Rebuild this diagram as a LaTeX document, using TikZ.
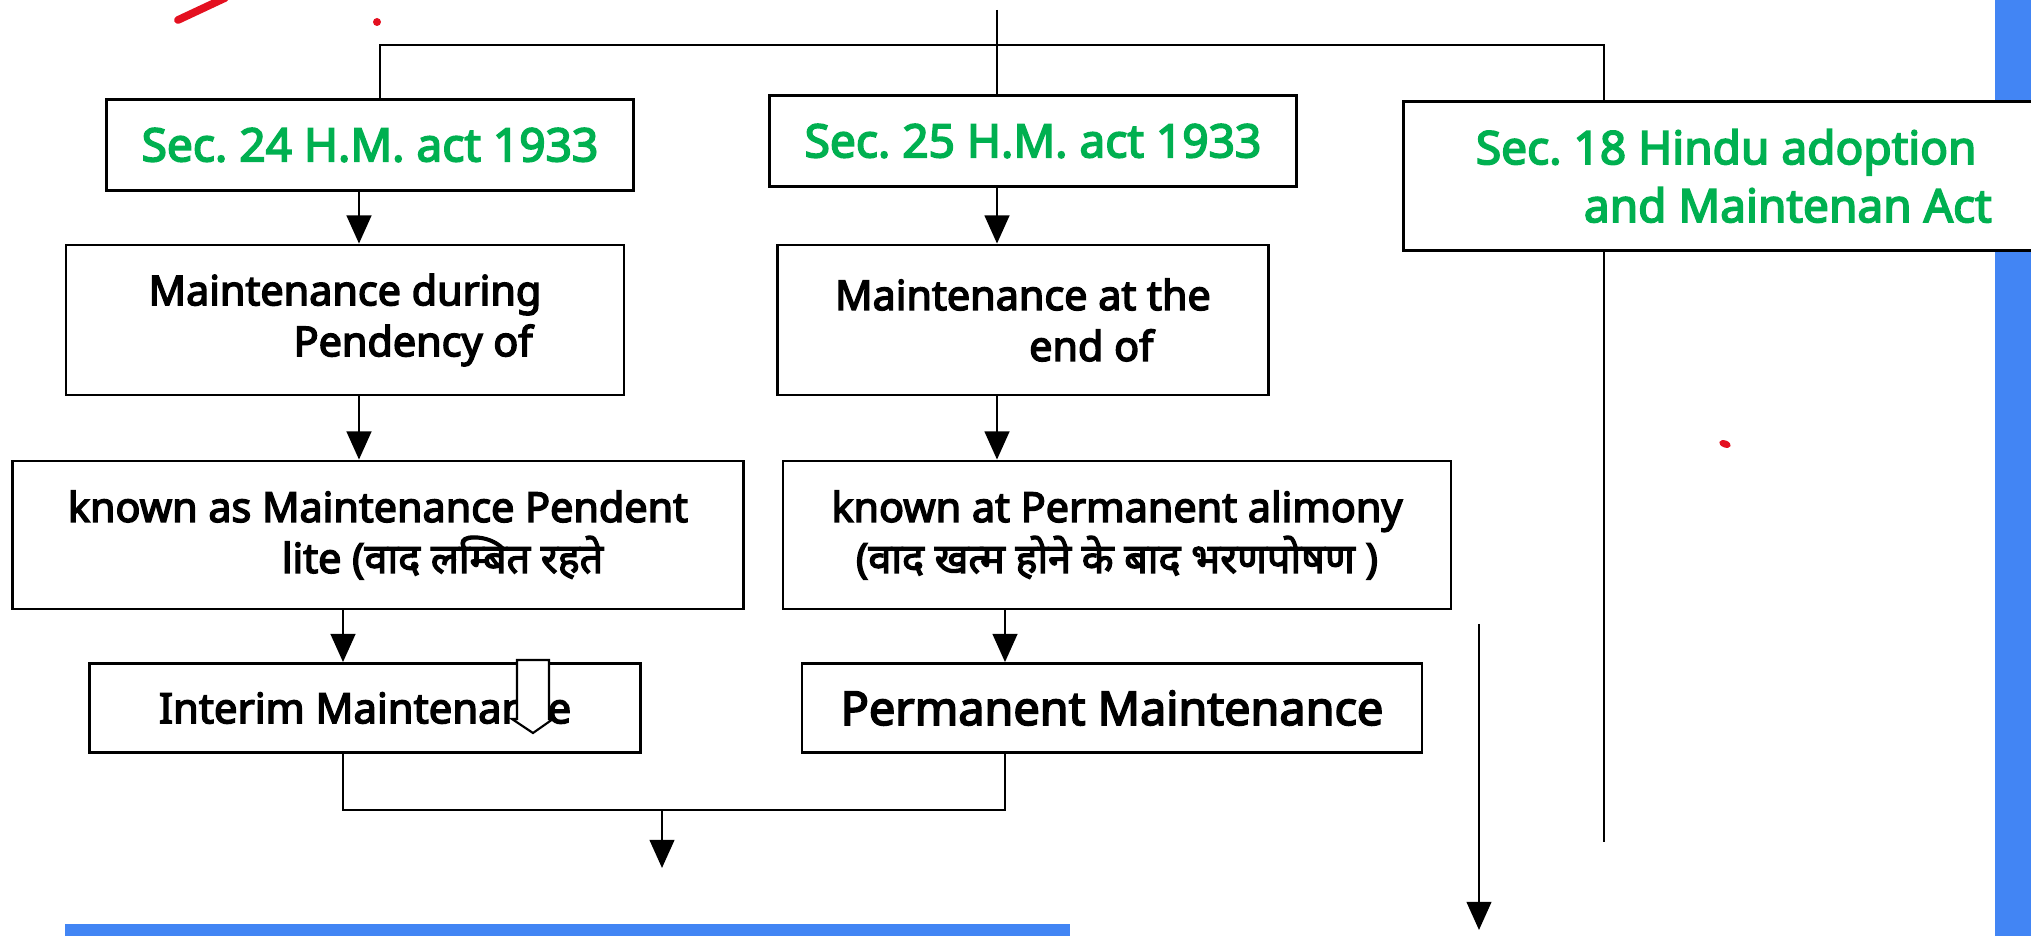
\documentclass[tikz,border=0pt]{standalone}
\usepackage{fontspec}
\setmainfont{Noto Sans}[BoldFont={Noto Sans}, BoldFeatures={FakeBold=3.6}]
\newfontfamily\hindi[Script=Devanagari, BoldFont={Noto Sans}, BoldFeatures={FakeBold=3}]{Noto Sans}
\frenchspacing
\usetikzlibrary{arrows.meta}
\definecolor{actgreen}{RGB}{0,176,80}
\definecolor{barblue}{RGB}{66,133,244}
\definecolor{penred}{RGB}{228,16,32}
\begin{document}
\begin{tikzpicture}
[box/.style={draw, line width=0.8pt, fill=white, inner sep=0pt, align=left,
   font=\bfseries\fontsize{11.75}{14.5}\selectfont},
 act/.style={box, text=actgreen, font=\bfseries\fontsize{13.1}{16.5}\selectfont},
 >={Triangle[width=7pt,length=8pt]}, line width=0.7pt]
\useasboundingbox (0,0) rectangle (20.31,-9.36);
\fill[barblue] (19.95,0) rectangle (20.31,-9.36);
\fill[barblue] (0.65,-9.24) rectangle (10.70,-9.36);

\node[act, minimum width=5.27cm, minimum height=0.91cm] (S24) at (3.70,-1.45) {Sec. 24 H.M. act 1933};
\node[act, minimum width=5.27cm, minimum height=0.91cm] (S25) at (10.33,-1.41) {Sec. 25 H.M. act 1933};
\node[act, anchor=north west, inner xsep=0.725cm, minimum height=1.49cm] (S18) at (14.02,-1.00)
  {Sec. 18 Hindu adoption\\\hspace*{1.08cm}and Maintenan Act};
\node[box, minimum width=5.58cm, minimum height=1.50cm] (MD) at (3.45,-3.20)
  {Maintenance during\\\hspace*{1.45cm}Pendency of};
\node[box, minimum width=4.91cm, minimum height=1.50cm] (MA) at (10.23,-3.20)
  {Maintenance at the\\\hspace*{1.94cm}end of};
\node[box, minimum width=7.31cm, minimum height=1.48cm] (KA) at (3.78,-5.35)
  {known as Maintenance Pendent\\\hspace*{2.14cm}lite ({\hindi वाद लम्बित रहते}};
\node[box, align=center, minimum width=6.68cm, minimum height=1.48cm] (KP) at (11.17,-5.35)
  {known at Permanent alimony\\({\hindi वाद खत्म होने के बाद भरणपोषण} )};
\node[box, minimum width=5.51cm, minimum height=0.89cm, font=\bfseries\fontsize{11.9}{14}\selectfont]
  (IM) at (3.65,-7.08) {Interim Maintenance};
\node[box, minimum width=6.20cm, minimum height=0.89cm, font=\bfseries\fontsize{13.3}{15}\selectfont]
  (PM) at (11.12,-7.08) {Permanent Maintenance};

\coordinate (in) at (9.97,-0.10);
\coordinate (colA) at (3.59,0);
\coordinate (busL) at (3.80,-0.45);
\coordinate (busR) at (16.04,-0.45);
\coordinate (joinL) at (3.43,-8.10);
\coordinate (joinR) at (10.05,-8.10);
\coordinate (joinM) at (6.62,-8.10);
\coordinate (outM) at (6.62,-8.68);
\coordinate (end18) at (16.04,-8.42);
\coordinate (longA) at (14.79,-6.24);
\coordinate (longB) at (14.79,-9.30);

\draw (in) -- (S25.north -| in);
\draw (S24.north -| busL) -- (busL) -- (busR) -- (S18.north -| busR);
\draw[->] (S24.south -| colA) -- (MD.north -| colA);
\draw[->] (MD.south -| colA) -- (KA.north -| colA);
\draw[->] (KA.south -| joinL) -- (IM.north -| joinL);
\draw[->] (S25.south -| in) -- (MA.north -| in);
\draw[->] (MA.south -| in) -- (KP.north -| in);
\draw[->] (KP.south -| joinR) -- (PM.north -| joinR);
\draw (IM.south -| joinL) -- (joinL) -- (joinR) -- (PM.south -| joinR);
\draw[->] (joinM) -- (outM);
\draw (S18.south -| busR) -- (end18);
\draw[->] (longA) -- (longB);

\draw[line width=0.6pt, fill=white] (5.17,-6.60) -- (5.49,-6.60) -- (5.49,-7.19) -- (5.53,-7.19)
  -- (5.33,-7.33) -- (5.12,-7.19) -- (5.17,-7.19) -- cycle;

\draw[penred, line width=2.2pt, line cap=round] (1.78,-0.20) -- (2.25,0.02);
\fill[penred] (3.77,-0.22) circle (0.04);
\fill[penred, rotate around={-20:(17.25,-4.44)}] (17.25,-4.44) ellipse (0.06 and 0.035);
\end{tikzpicture}
\end{document}
